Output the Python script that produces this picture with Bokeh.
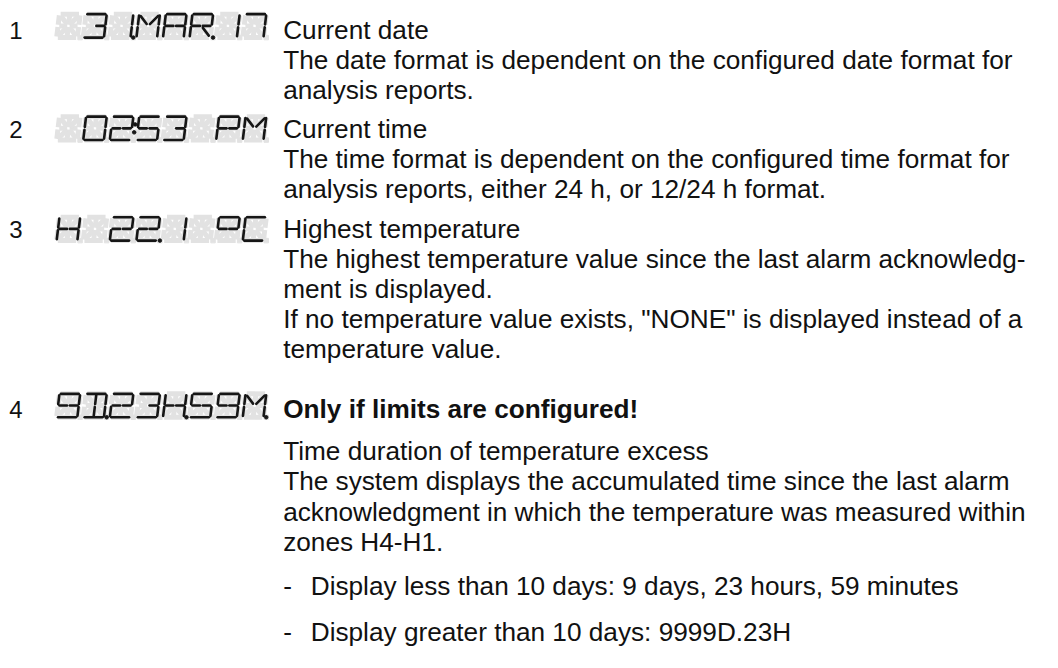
from bokeh.plotting import figure
from bokeh.models import Range1d, ColumnDataSource
from bokeh.embed import file_html
from bokeh.resources import INLINE
from bokeh.core.properties import value

# ---------------- data ----------------
row_numbers = ["1", "2", "3", "4"]

display_cells = [
    [" ", "3", "1.", "M", "A", "R.", "1", "7"],
    [" ", "0", "2:", "5", "3", " ", "P", "M"],
    ["H", " ", "2", "2.", "1", " ", "°", "C"],
    ["9", "D.", "2", "3", "H.", "5", "9", "M."],
]

row1_lines = [
    "Current date",
    "The date format is dependent on the configured date format for",
    "analysis reports.",
]
row2_lines = [
    "Current time",
    "The time format is dependent on the configured time format for",
    "analysis reports, either 24 h, or 12/24 h format.",
]
row3_lines = [
    "Highest temperature",
    "The highest temperature value since the last alarm acknowledg-",
    "ment is displayed.",
    "If no temperature value exists, \"NONE\" is displayed instead of a",
    "temperature value.",
]
row4_heading = "Only if limits are configured!"
row4_lines = [
    "Time duration of temperature excess",
    "The system displays the accumulated time since the last alarm",
    "acknowledgment in which the temperature was measured within",
    "zones H4-H1.",
]
bullet_items = [
    "Display less than 10 days: 9 days, 23 hours, 59 minutes",
    "Display greater than 10 days: 9999D.23H",
]

# 14-segment patterns
SEGMENTS = {
    " ": "",
    "0": "abcdef",
    "1": "bc",
    "2": "abdeGg",
    "3": "abcdg",
    "5": "acdfGg",
    "7": "abc",
    "9": "abcdfGg",
    "A": "abcefGg",
    "C": "adef",
    "D": "abcdil",
    "H": "bcefGg",
    "M": "bcefhj",
    "P": "abefGg",
    "R": "abefGgm",
    "°": "abfGg",
}
ALL_SEGS = "abcdefGghijklm"

# ---------------- layout ----------------
REF_W, REF_H = 1058, 668
W_PAGE, H_PAGE = 1042, 652
p = figure(width=W_PAGE, height=H_PAGE, output_backend="svg", toolbar_location=None,
           x_range=Range1d(0, REF_W), y_range=Range1d(REF_H, 0),
           min_border=0)
p.axis.visible = False
p.grid.visible = False
p.outline_line_color = None
p.background_fill_color = "white"
p.border_fill_color = "white"

FONT = "Liberation Sans"
FS = "26.2px"
LH = 30.8
TX = 287

cell_x0 = 57
pitch = 27.0
CW, CH = 21.0, 24.0
SLANT = 0.12
display_tops = [14, 119, 222, 403]
number_baselines = [31, 132, 235, 419]
row_starts = [30.5, 132, 234]
row4_heading_y = 419
row4_body_y = 462
bullet_y = [600, 647]


def pt(x0, y0, u, v):
    return (x0 + u * CW + SLANT * (1 - v) * CH, y0 + v * CH)


SEG_DEF = {
    "a": ((0, 0), (1, 0)),
    "b": ((1, 0), (1, 0.5)),
    "c": ((1, 0.5), (1, 1)),
    "d": ((0, 1), (1, 1)),
    "e": ((0, 0.5), (0, 1)),
    "f": ((0, 0), (0, 0.5)),
    "G": ((0, 0.5), (0.5, 0.5)),
    "g": ((0.5, 0.5), (1, 0.5)),
    "h": ((0, 0), (0.5, 0.5)),
    "i": ((0.5, 0), (0.5, 0.5)),
    "j": ((1, 0), (0.5, 0.5)),
    "k": ((0, 1), (0.5, 0.5)),
    "l": ((0.5, 0.5), (0.5, 1)),
    "m": ((1, 1), (0.5, 0.5)),
}


def seg_line(x0, y0, s, gap):
    (u1, v1), (u2, v2) = SEG_DEF[s]
    xa, ya = pt(x0, y0, u1, v1)
    xb, yb = pt(x0, y0, u2, v2)
    dx, dy = xb - xa, yb - ya
    L = (dx * dx + dy * dy) ** 0.5
    g = gap if s not in "hjkm" else gap * 1.8
    fx, fy = dx / L * g, dy / L * g
    return [xa + fx, xb - fx], [ya + fy, yb - fy]


grey_xs, grey_ys, blk_xs, blk_ys = [], [], [], []
gdot_x, gdot_y, bdot_x, bdot_y = [], [], [], []
for r, cells in enumerate(display_cells):
    y0 = display_tops[r]
    for c, ch in enumerate(cells):
        x0 = cell_x0 + c * pitch
        base = ch[0]
        for s in ALL_SEGS:
            xs, ys = seg_line(x0, y0, s, 1.2)
            grey_xs.append(xs)
            grey_ys.append(ys)
        for s in SEGMENTS.get(base, ""):
            xs, ys = seg_line(x0, y0, s, 1.4)
            blk_xs.append(xs)
            blk_ys.append(ys)
        dpx, dpy = x0 + CW + 2.8, y0 + CH
        gdot_x.append(dpx)
        gdot_y.append(dpy)
        if ch.endswith("."):
            bdot_x.append(dpx)
            bdot_y.append(dpy)
        if ch.endswith(":"):
            for v in (0.33, 0.67):
                cx = x0 + CW + 2.8 + SLANT * (1 - v) * CH
                bdot_x.append(cx)
                bdot_y.append(y0 + v * CH)

p.multi_line(xs=grey_xs, ys=grey_ys, line_color="#e2e2e2", line_width=5, line_cap="butt")
p.scatter(x=gdot_x, y=gdot_y, size=4.5, color="#e2e2e2", marker="square")
p.multi_line(xs=blk_xs, ys=blk_ys, line_color="#161616", line_width=2.6, line_cap="round")
p.scatter(x=bdot_x, y=bdot_y, size=3.5, color="#161616", marker="circle")

# texts
num_src = ColumnDataSource(dict(x=[9] * len(row_numbers), y=number_baselines, text=row_numbers))
p.text(x="x", y="y", text="text", source=num_src, text_font=value(FONT),
       text_font_size=value("24px"), text_baseline="alphabetic", text_align="left",
       text_color="#111111")

bx, by, bt = [], [], []
for lines, y_start in zip([row1_lines, row2_lines, row3_lines], row_starts):
    for k, line in enumerate(lines):
        bx.append(TX)
        by.append(y_start + k * LH)
        bt.append(line)
for k, line in enumerate(row4_lines):
    bx.append(TX)
    by.append(row4_body_y + k * LH)
    bt.append(line)
for k, item in enumerate(bullet_items):
    bx.append(TX)
    by.append(bullet_y[k])
    bt.append("-")
    bx.append(315)
    by.append(bullet_y[k])
    bt.append(item)

body_src = ColumnDataSource(dict(x=bx, y=by, text=bt))
p.text(x="x", y="y", text="text", source=body_src, text_font=value(FONT),
       text_font_size=value(FS), text_baseline="alphabetic", text_align="left",
       text_color="#111111")

p.text(x=[TX], y=[row4_heading_y], text=[row4_heading], text_font=value(FONT),
       text_font_size=value(FS), text_font_style="bold", text_baseline="alphabetic",
       text_align="left", text_color="#111111")

open("out.html", "w").write(file_html(p, INLINE))
